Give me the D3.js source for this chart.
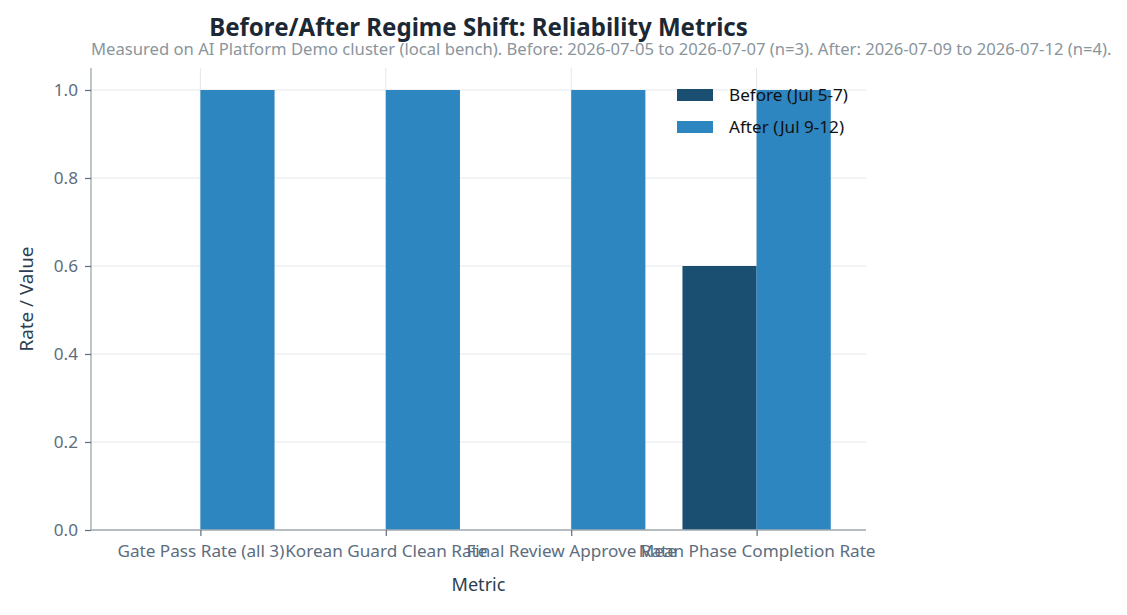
<!DOCTYPE html>
<html><head><meta charset="utf-8">
<script src="https://cdn.jsdelivr.net/npm/d3@7"></script>
<style>body{margin:0;background:#fff}svg{display:block}text{font-family:"Noto Sans","Open Sans",sans-serif}</style>
</head><body><svg id="c" width="1127" height="615"></svg>
<script>
const categories = ["Gate Pass Rate (all 3)", "Korean Guard Clean Rate", "Final Review Approve Rate", "Mean Phase Completion Rate"];
const beforeValues = [0, 0, 0, 0.6];
const afterValues = [1.0, 1.0, 1.0, 1.0];
const seriesNames = ["Before (Jul 5-7)", "After (Jul 9-12)"];
const yTicks = [0, 0.2, 0.4, 0.6, 0.8, 1.0];
const colors = ["#1b4f72", "#2e86c1"];

const svg = d3.select("#c");
const L = 91, R = 866, T = 68, B = 530;
const x = d3.scaleLinear().domain([-0.59, 3.59]).range([L, R]);
const y = d3.scaleLinear().domain([0, 1.05]).range([B, T]);
const bw = 0.4;

function fit(sel, target) {
  const n = sel.node();
  const fs = parseFloat(n.style.fontSize);
  const w = n.getComputedTextLength();
  const nf = fs * target / w;
  sel.style("font-size", nf + "px");
  return nf;
}

// grid
svg.append("g").selectAll("line").data(yTicks).join("line")
  .attr("x1", L).attr("x2", R).attr("y1", d => y(d)).attr("y2", d => y(d))
  .attr("stroke", "#e3e7ea").attr("stroke-width", 1);
svg.append("g").selectAll("line").data(categories).join("line")
  .attr("x1", (d, i) => x(i)).attr("x2", (d, i) => x(i)).attr("y1", T).attr("y2", B)
  .attr("stroke", "#e3e7ea").attr("stroke-width", 1);

// bars
const series = [beforeValues, afterValues];
series.forEach((vals, s) => {
  svg.append("g").selectAll("rect").data(vals).join("rect")
    .attr("x", (d, i) => x(i + (s === 0 ? -bw : 0)))
    .attr("width", x(bw) - x(0))
    .attr("y", d => y(d)).attr("height", d => y(0) - y(d))
    .attr("fill", colors[s]);
});

// axes
const yAxis = d3.axisLeft(y).tickValues(yTicks).tickFormat(d3.format(".1f")).tickSize(6).tickPadding(7);
const gy = svg.append("g").attr("transform", `translate(${L},0)`).call(yAxis);
const xAxis = d3.axisBottom(x).tickValues(d3.range(categories.length)).tickFormat(i => categories[i]).tickSize(6).tickPadding(9);
const gx = svg.append("g").attr("transform", `translate(0,${B})`).call(xAxis);
gx.selectAll(".tick text").style("font-size", "15px");
const tfs = fit(gx.select(".tick text"), 167);
[gy, gx].forEach(g => {
  g.select(".domain").attr("stroke", "#a3adb2").attr("stroke-width", 1.4);
  g.selectAll(".tick line").attr("stroke", "#5d6d7e").attr("stroke-width", 1.2);
  g.selectAll(".tick text").attr("fill", "#5d6d7e").style("font-size", tfs + "px");
});
gy.select(".domain").attr("d", `M0,${B}V${T}`);
gx.select(".domain").attr("d", `M${L},0H${R}`);

// labels
const xl = svg.append("text").attr("x", 478.5).attr("y", 591).attr("text-anchor", "middle")
  .attr("fill", "#2c3e50").style("font-size", "17px").text("Metric");
fit(xl, 54);
const yl = svg.append("text").attr("transform", `translate(33,299) rotate(-90)`).attr("text-anchor", "middle")
  .attr("fill", "#2c3e50").style("font-size", "17px").text("Rate / Value");
fit(yl, 105);

const tt = svg.append("text").attr("x", 478.5).attr("y", 36).attr("text-anchor", "middle")
  .attr("fill", "#1c2833").style("font-size", "23px").style("font-weight", "bold")
  .text("Before/After Regime Shift: Reliability Metrics");
fit(tt, 539);
const st = svg.append("text").attr("x", 91).attr("y", 55)
  .attr("fill", "#8a959c").style("font-size", "14px")
  .text("Measured on AI Platform Demo cluster (local bench). Before: 2026-07-05 to 2026-07-07 (n=3). After: 2026-07-09 to 2026-07-12 (n=4).");
fit(st, 1021);

// legend
const lg = svg.append("g");
let lfs = null;
seriesNames.forEach((n, i) => {
  lg.append("rect").attr("x", 677).attr("y", 89 + i * 32).attr("width", 36).attr("height", 12).attr("fill", colors[i]);
  const t = lg.append("text").attr("x", 729).attr("y", 101 + i * 32).attr("fill", "#111").style("font-size", "15px").text(n);
  if (i === 0) lfs = fit(t, 119); else t.style("font-size", lfs + "px");
});
</script></body></html>
